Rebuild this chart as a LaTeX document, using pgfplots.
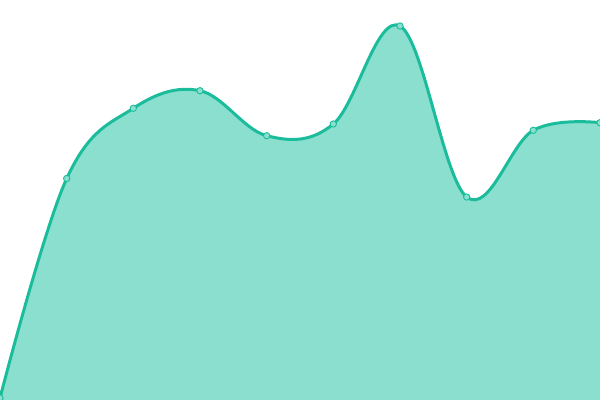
\documentclass[border=0pt]{standalone}
\usepackage{pgfplots}
\pgfplotsset{compat=1.18}
\definecolor{turq}{HTML}{1ABC9C}
\definecolor{turqfill}{HTML}{8ADFCE}
\begin{document}
\begin{tikzpicture}[x=1bp,y=1bp]
\path[use as bounding box, clip] (0,0) rectangle (600bp,400bp);
\begin{axis}[
    at={(0,0)}, anchor=south west,
    scale only axis,
    width=600bp, height=400bp,
    xmin=0, xmax=600, ymin=0, ymax=400,
    hide axis,
    clip=false,
]
% y values are measured from the bottom of the picture
\addplot[fill=turqfill, draw=none, smooth, tension=0.62] coordinates {
    (0,2) (66.7,221.5) (133.3,291.7) (200,309.3) (266.7,264.3)
    (333.3,276) (400,374) (466.7,203) (533.3,269.7) (600,277.3)
} \closedcycle;
\addplot[turq, line width=3pt, smooth, tension=0.62,
    mark=*, mark size=3.2pt,
    mark options={fill=turqfill, draw=turq, line width=0.9pt}] coordinates {
    (0,2) (66.7,221.5) (133.3,291.7) (200,309.3) (266.7,264.3)
    (333.3,276) (400,374) (466.7,203) (533.3,269.7) (600,277.3)
};
\end{axis}
\end{tikzpicture}
\end{document}
